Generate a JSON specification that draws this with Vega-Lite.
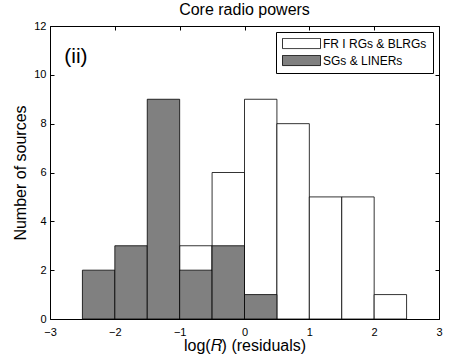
{
  "$schema": "https://vega.github.io/schema/vega-lite/v6.json",
  "autosize": "none",
  "width": 389,
  "height": 293,
  "padding": {"left": 50, "top": 26, "right": 11, "bottom": 40},
  "background": "white",
  "title": {"text": "Core radio powers", "font": "Liberation Sans", "fontSize": 16, "fontWeight": "normal", "color": "black", "offset": 2},
  "config": {
    "view": {"stroke": "black", "strokeWidth": 1},
    "axis": {
      "domain": false,
      "grid": false,
      "labelFlush": false,
      "tickColor": "black",
      "tickSize": -4,
      "tickWidth": 1,
      "labelFont": "Liberation Sans",
      "labelFontSize": 11,
      "labelColor": "black",
      "titleFont": "Liberation Sans",
      "titleFontSize": 16,
      "titleFontWeight": "normal",
      "titleColor": "black"
    }
  },
  "datasets": {
    "bars": [
      {"start": -1.0, "end": -0.5, "count": 3, "group": "FR I RGs & BLRGs"},
      {"start": -0.5, "end": 0.0, "count": 6, "group": "FR I RGs & BLRGs"},
      {"start": 0.0, "end": 0.5, "count": 9, "group": "FR I RGs & BLRGs"},
      {"start": 0.5, "end": 1.0, "count": 8, "group": "FR I RGs & BLRGs"},
      {"start": 1.0, "end": 1.5, "count": 5, "group": "FR I RGs & BLRGs"},
      {"start": 1.5, "end": 2.0, "count": 5, "group": "FR I RGs & BLRGs"},
      {"start": 2.0, "end": 2.5, "count": 1, "group": "FR I RGs & BLRGs"},
      {"start": -2.5, "end": -2.0, "count": 2, "group": "SGs & LINERs"},
      {"start": -2.0, "end": -1.5, "count": 3, "group": "SGs & LINERs"},
      {"start": -1.5, "end": -1.0, "count": 9, "group": "SGs & LINERs"},
      {"start": -1.0, "end": -0.5, "count": 2, "group": "SGs & LINERs"},
      {"start": -0.5, "end": 0.0, "count": 3, "group": "SGs & LINERs"},
      {"start": 0.0, "end": 0.5, "count": 1, "group": "SGs & LINERs"}
    ],
    "label": [{"x": -2.6, "y": 10.75, "text": "(ii)"}]
  },
  "layer": [
    {
      "data": {"name": "bars"},
      "mark": {"type": "bar", "stroke": "black", "strokeWidth": 0.8, "opacity": 1},
      "encoding": {
        "x": {"field": "start", "type": "quantitative", "scale": {"domain": [-3, 3], "nice": false, "zero": false, "padding": 0},
              "axis": {"orient": "bottom", "values": [-3, -2, -1, 0, 1, 2, 3], "labelPadding": 11, "title": "log(𝑅) (residuals)", "titlePadding": 0}},
        "x2": {"field": "end"},
        "y": {"field": "count", "type": "quantitative", "scale": {"domain": [0, 12], "nice": false, "zero": false, "padding": 0},
              "axis": {"orient": "left", "values": [0, 2, 4, 6, 8, 10, 12], "labelPadding": 8, "title": "Number of sources", "titlePadding": 5}},
        "y2": {"datum": 0},
        "fill": {"field": "group", "type": "nominal",
                 "scale": {"domain": ["FR I RGs & BLRGs", "SGs & LINERs"], "range": ["white", "#808080"]},
                 "legend": {"title": null, "orient": "top-right", "offset": 6, "padding": 6,
                            "strokeColor": "black", "fillColor": "white",
                            "symbolType": "M-1,-0.27H1V0.27H-1Z", "symbolSize": 1444,
                            "symbolStrokeColor": "black", "symbolStrokeWidth": 0.8,
                            "clipHeight": 11, "rowPadding": 4,
                            "labelFont": "Liberation Sans", "labelFontSize": 12, "labelColor": "black", "labelOffset": 2}}
      }
    },
    {
      "data": {"name": "label"},
      "mark": {"type": "text", "font": "Liberation Sans", "fontSize": 21, "baseline": "middle", "align": "center", "color": "black"},
      "encoding": {
        "x": {"field": "x", "type": "quantitative", "scale": {"domain": [-3, 3], "nice": false, "zero": false, "padding": 0}, "axis": null},
        "y": {"field": "y", "type": "quantitative", "scale": {"domain": [0, 12], "nice": false, "zero": false, "padding": 0}, "axis": null},
        "text": {"field": "text"}
      }
    },
    {
      "data": {"name": "label"},
      "mark": {"type": "point", "opacity": 0},
      "encoding": {
        "x": {"field": "x", "type": "quantitative", "scale": {"domain": [-3, 3], "nice": false, "zero": false, "padding": 0}, "axis": {"orient": "top", "values": [-3, -2, -1, 0, 1, 2, 3], "labels": false, "title": null}},
        "y": {"field": "y", "type": "quantitative", "scale": {"domain": [0, 12], "nice": false, "zero": false, "padding": 0}, "axis": {"orient": "right", "values": [0, 2, 4, 6, 8, 10, 12], "labels": false, "title": null}}
      }
    }
  ],
  "resolve": {"axis": {"x": "independent", "y": "independent"}}
}
